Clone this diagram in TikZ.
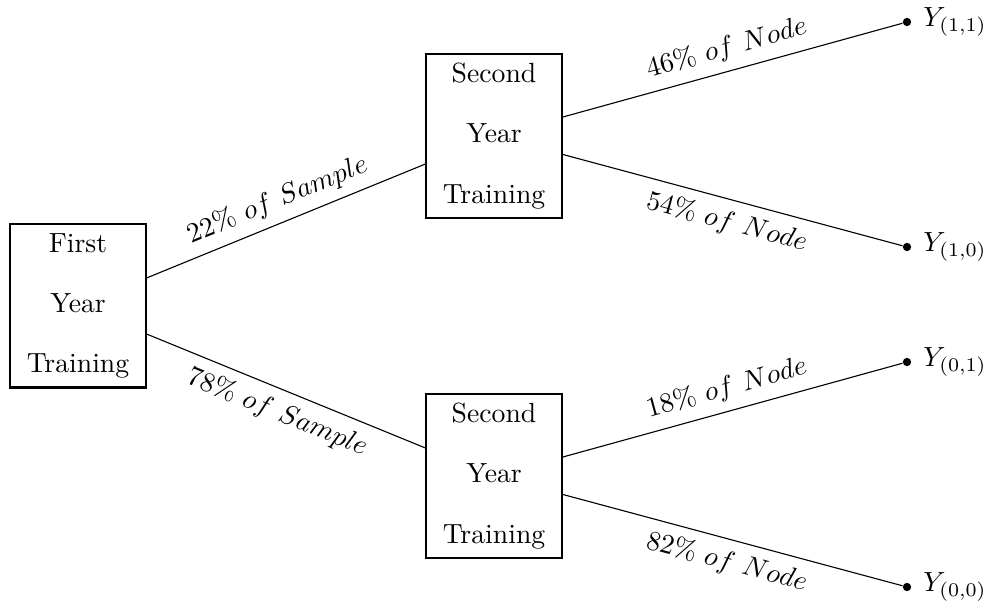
\documentclass[tikz,border=0pt]{standalone}
\begin{document}
\begin{tikzpicture}[x=0.361pt,y=-0.361pt,
  box/.style={draw,thick,align=center,minimum width=49pt,inner sep=3.33pt},
  leaf/.style={circle,fill,inner sep=0pt,minimum size=3pt},
  lab/.style={sloped,midway}]
\useasboundingbox (0,0) rectangle (990,611);
\node[box] (first) at (78,306) {First\\[9.7pt]Year\\[9.7pt]Training};
\node[box] (s1) at (494,136) {Second\\[9.7pt]Year\\[9.7pt]Training};
\node[box] (s0) at (494,476) {Second\\[9.7pt]Year\\[9.7pt]Training};
\node[leaf] (y11) at (907,22) {};
\node[leaf] (y10) at (907,247) {};
\node[leaf] (y01) at (907,362) {};
\node[leaf] (y00) at (907,587) {};
\node[anchor=west,inner sep=2pt] (t11) at ([xshift=2pt]y11.east) {$Y_{(1,1)}$};
\node[anchor=west,inner sep=2pt] (t10) at ([xshift=2pt]y10.east) {$Y_{(1,0)}$};
\node[anchor=west,inner sep=2pt] (t01) at ([xshift=2pt]y01.east) {$Y_{(0,1)}$};
\node[anchor=west,inner sep=2pt] (t00) at ([xshift=2pt]y00.east) {$Y_{(0,0)}$};
\draw (first) -- node[lab,above] {$22\%\ of\ Sample$} (s1);
\draw (first) -- node[lab,below] {$78\%\ of\ Sample$} (s0);
\draw (s1) -- node[lab,above] {$46\%\ of\ Node$} (y11);
\draw (s1) -- node[lab,below] {$54\%\ of\ Node$} (y10);
\draw (s0) -- node[lab,above] {$18\%\ of\ Node$} (y01);
\draw (s0) -- node[lab,below] {$82\%\ of\ Node$} (y00);
\end{tikzpicture}
\end{document}
